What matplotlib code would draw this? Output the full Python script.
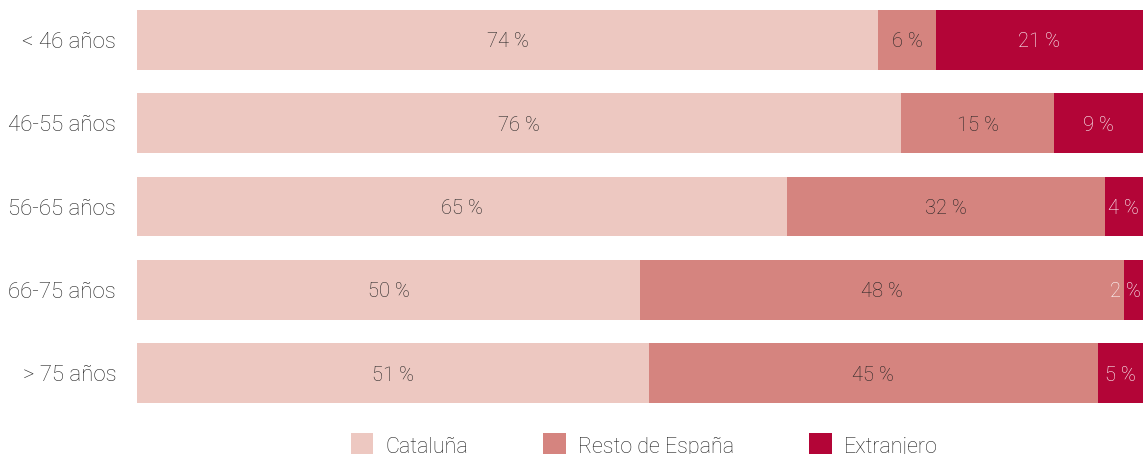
import matplotlib
matplotlib.use("Agg")
import matplotlib.pyplot as plt
from matplotlib.patches import Patch

categories = ["< 46 años", "46-55 años", "56-65 años", "66-75 años", "> 75 años"]
series_names = ["Cataluña", "Resto de España", "Extranjero"]
cataluna = [73.7, 75.9, 64.6, 50.0, 50.9]
resto = [5.7, 15.3, 31.6, 48.1, 44.6]
extranjero = [20.6, 8.8, 3.8, 1.9, 4.5]

colors = ["#EDC8C1", "#D5847F", "#B30537"]
dark = "#222222"
text_colors = [dark, dark, "#FFFFFF"]

plt.rcParams['font.family'] = ['Roboto', 'DejaVu Sans']
plt.rcParams['font.weight'] = 'light'

W, H = 1145, 454
fig = plt.figure(figsize=(W / 100, H / 100), dpi=100)
ax = fig.add_axes([137 / W, (H - 403) / H, 1006 / W, 393 / H])

series = [cataluna, resto, extranjero]
ypos = list(range(len(categories)))
lefts = [0.0] * len(categories)
for vals, col, tcol in zip(series, colors, text_colors):
    ax.barh(ypos, vals, left=lefts, height=0.72, color=col, edgecolor='none')
    for i, v in enumerate(vals):
        center = lefts[i] + v / 2
        label = f"{int(v + 0.5)} %"
        if v < 3:
            ax.text(lefts[i] + v - 0.25, i, label, ha='right', va='center_baseline',
                    fontsize=14.5, color=tcol, clip_on=False)
        else:
            ax.text(center, i, label, ha='center', va='center_baseline',
                    fontsize=14.5, color=tcol)
    lefts = [l + v for l, v in zip(lefts, vals)]

ax.set_xlim(0, 100)
ax.set_ylim(len(categories) - 1 + 0.36, -0.36)
ax.set_yticks(ypos)
ax.set_yticklabels(categories, fontsize=16, color=dark, va='center_baseline')
ax.tick_params(axis='y', length=0, pad=15)
ax.set_xticks([])
for s in ax.spines.values():
    s.set_visible(False)

handles = [Patch(facecolor=c, edgecolor='none', label=n) for c, n in zip(colors, series_names)]
fig.legend(handles=handles, loc='upper center', bbox_to_anchor=(0.5625, (H - 433) / H),
           ncol=3, frameon=False, fontsize=15.5, handlelength=1.05, handleheight=1.4,
           handletextpad=0.55, columnspacing=3.5, borderpad=0, borderaxespad=0,
           labelcolor=dark)

fig.savefig("out.png", dpi=100)
